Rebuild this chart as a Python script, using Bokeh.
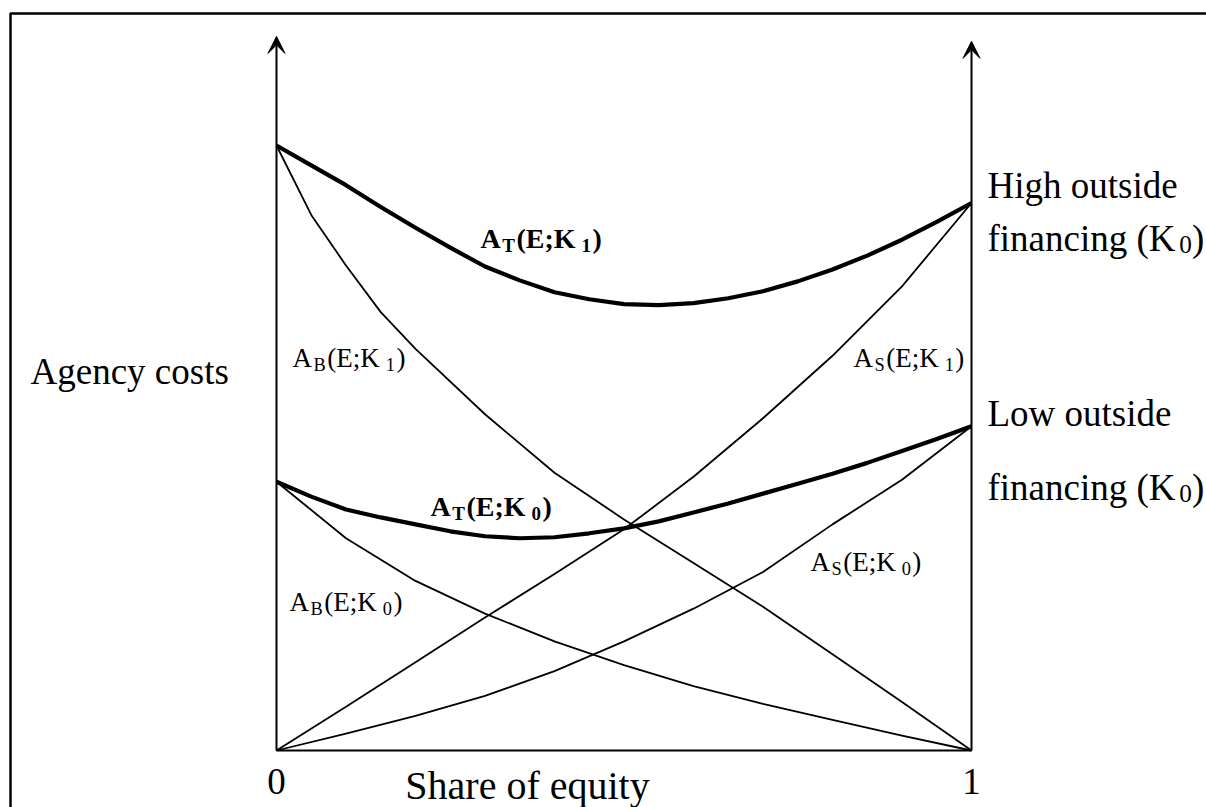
from bokeh.plotting import figure
from bokeh.models import Range1d, Arrow, VeeHead
from bokeh.core.properties import value
from bokeh.embed import file_html
from bokeh.resources import INLINE

# ---- data: share of equity E and agency costs (arbitrary units) ----
share = [0.0, 0.1, 0.2, 0.3, 0.4, 0.5, 0.6, 0.7, 0.8, 0.9, 1.0]
share_fine = [0.0, 0.05, 0.1, 0.15, 0.2, 0.3, 0.4, 0.5, 0.6, 0.7, 0.8, 0.9, 1.0]
share_total = [0.0, 0.05, 0.1, 0.15, 0.2, 0.25, 0.3, 0.35, 0.4, 0.45, 0.5,
               0.55, 0.6, 0.65, 0.7, 0.75, 0.8, 0.85, 0.9, 0.95, 1.0]

total_k1 = [6.10, 5.90, 5.70, 5.48, 5.27, 5.07, 4.88, 4.74, 4.62, 4.55, 4.50,
            4.49, 4.51, 4.56, 4.63, 4.73, 4.85, 4.99, 5.15, 5.33, 5.52]
bond_k1 = [6.10, 5.40, 4.89, 4.42, 4.05, 3.39, 2.80, 2.33, 1.89, 1.45, 0.97, 0.49, 0.00]
stock_k1 = [0.00, 0.44, 0.89, 1.34, 1.78, 2.23, 2.76, 3.35, 3.98, 4.68, 5.52]

total_k0 = [2.71, 2.56, 2.43, 2.35, 2.28, 2.21, 2.16, 2.14, 2.15, 2.19, 2.24,
            2.31, 2.40, 2.49, 2.59, 2.69, 2.79, 2.90, 3.02, 3.14, 3.27]
bond_k0 = [2.71, 2.14, 1.71, 1.38, 1.10, 0.86, 0.65, 0.47, 0.31, 0.15, 0.00]
stock_k0 = [0.00, 0.17, 0.35, 0.55, 0.80, 1.10, 1.43, 1.80, 2.28, 2.73, 3.27]

x_ticks = ["0", "1"]
axis_top = 7.20

# ---- canvas geometry (pixels) ----
W, H = 1206, 807
X0_PX, X1_PX = 276, 971
BASE_PX = 750
Y_SCALE = 99.18
UNIT = X1_PX - X0_PX


def dx(px):
    return (px - X0_PX) / UNIT


def dy(py):
    return (BASE_PX - py) / Y_SCALE


p = figure(width=W, height=H, output_backend="svg", toolbar_location=None,
           x_range=Range1d(dx(0), dx(W)), y_range=Range1d(dy(H), dy(0)),
           x_axis_type=None, y_axis_type=None, min_border=0,
           background_fill_color="white", border_fill_color="white",
           outline_line_color=None)
p.grid.visible = False

FONT = value("Liberation Serif")

# page frame
p.line([dx(10), dx(10), dx(W + 5)], [dy(H + 5), dy(13), dy(13)],
       line_color="black", line_width=2.5)

# axes: two vertical arrows and the base line
for xv, top in ((0.0, axis_top), (1.0, axis_top - 0.05)):
    p.add_layout(Arrow(end=VeeHead(size=17, line_color="black", fill_color="black", line_width=1),
                       x_start=xv, y_start=0.0, x_end=xv, y_end=top,
                       line_color="black", line_width=2))
p.line([0.0, 1.0], [0.0, 0.0], line_color="black", line_width=2)

# curves
thin = dict(line_color="black", line_width=1.8, line_join="round")
thick = dict(line_color="black", line_width=4.2, line_join="round")
p.line(share_fine, bond_k1, **thin)
p.line(share, stock_k1, **thin)
p.line(share, bond_k0, **thin)
p.line(share, stock_k0, **thin)
p.line(share_total, total_k1, **thick)
p.line(share_total, total_k0, **thick)

# character widths (Times metrics, per 1000 em)
REG = {'A': 722, 'B': 667, 'S': 556, 'T': 611, 'E': 611, 'K': 722, '(': 333, ')': 333,
       ';': 278, '0': 500, '1': 500, 'f': 333, 'i': 278, 'n': 500, 'a': 444, 'c': 444,
       'g': 500, ' ': 250}
BOLD = {'A': 722, 'T': 667, 'E': 667, 'K': 778, '(': 333, ')': 333, ';': 333,
        '0': 500, '1': 500}


def seg_width(s, size, bold, track):
    table = BOLD if bold else REG
    return sum(table.get(ch, 500) for ch in s) * size / 1000.0 + track * len(s)


def rich_label(left_px, base_px, parts, size, bold=False, track=1.5, sub_scale=0.68, sub_drop=7):
    off = 0.0
    for txt, is_sub in parts:
        fs = size * sub_scale if is_sub else size
        p.text(x=[dx(left_px)], y=[dy(base_px)], text=[txt], x_offset=off,
               y_offset=sub_drop if is_sub else 0,
               text_font=FONT, text_font_size=f"{fs:.1f}px",
               text_font_style="bold" if bold else "normal",
               text_color="black", text_align="left", text_baseline="alphabetic")
        off += seg_width(txt, fs, bold, track)


def curve_label(left_px, base_px, who, k, bold=False):
    rich_label(left_px, base_px, [("A", False), (who, True), ("(E;K", False), (k, True), (")", False)],
               28 if bold else 27, bold=bold)


curve_label(480, 238, "T", "1", bold=True)
curve_label(430, 506, "T", "0", bold=True)
curve_label(292, 357, "B", "1")
curve_label(853, 357, "S", "1")
curve_label(289, 601, "B", "0")
curve_label(810, 561, "S", "0")

# plain labels
plain = dict(text_font=FONT, text_font_size="37px", text_color="black", text_baseline="alphabetic")
p.text(x=[dx(30)], y=[dy(371)], text=["Agency costs"], text_align="left", **plain)
p.text(x=[dx(987)], y=[dy(185)], text=["High outside"], text_align="left", **plain)
p.text(x=[dx(987)], y=[dy(413)], text=["Low outside"], text_align="left", **plain)
rich_label(987, 238, [("financing (K", False), ("0", True), (")", False)], 37, track=0.3, sub_drop=6)
rich_label(987, 487, [("financing (K", False), ("0", True), (")", False)], 37, track=0.3, sub_drop=6)
p.text(x=[0.0, 1.0], y=[dy(781), dy(781)], text=x_ticks, text_align="center", **plain)
p.text(x=[dx(527)], y=[dy(785)], text=["Share of equity"], text_align="center",
       text_font=FONT, text_font_size="40px", text_color="black", text_baseline="alphabetic")

open("out.html", "w").write(file_html(p, INLINE))
